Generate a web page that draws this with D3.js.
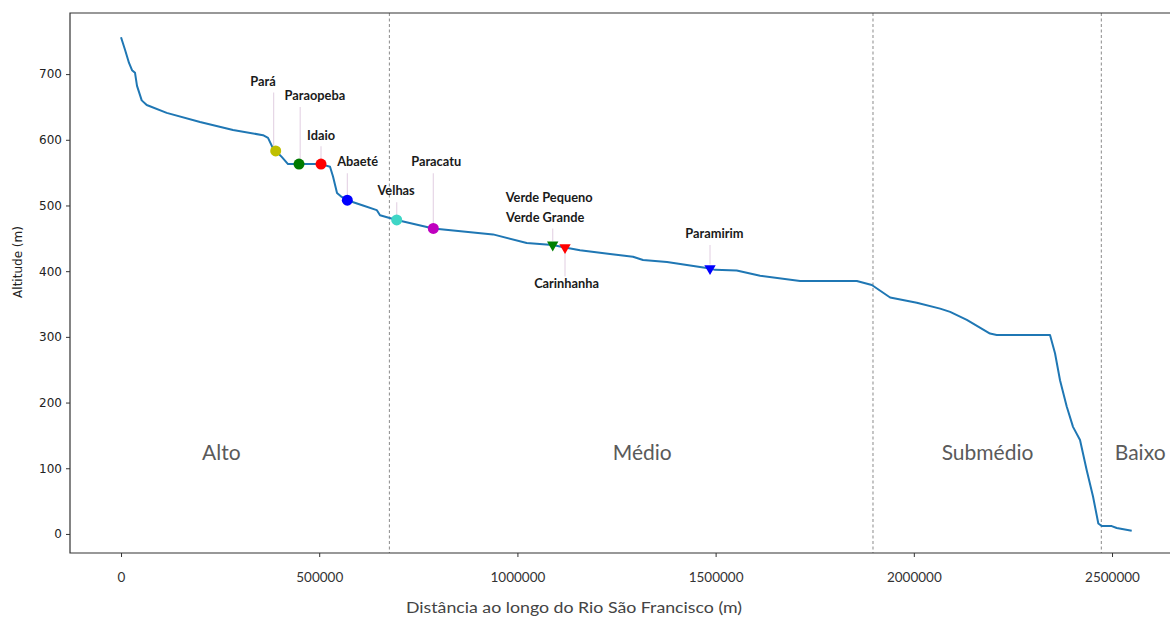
<!DOCTYPE html>
<html>
<head>
<meta charset="utf-8">
<script src="https://cdn.jsdelivr.net/npm/d3@7"></script>
<style>
  html, body { margin: 0; padding: 0; background: #fff; overflow: hidden; }
  svg { display: block; }
</style>
</head>
<body>
<svg id="chart" width="1170" height="620"></svg>
<script>
// ---- Data ----
const profileDist = [0, 10090, 20180, 27750, 35320, 40360, 52220, 64830, 115290, 199290, 282540, 358220, 370840, 383450, 390260, 405400, 421290, 449040, 504540, 527240, 534810, 544900, 556760, 570890, 610490, 645060, 653380, 695510, 787840, 938450, 1023460, 1089050, 1120080, 1157920, 1233600, 1291620, 1316850, 1377400, 1485870, 1498490, 1553230, 1612260, 1713170, 1856210, 1894050, 1940220, 2007570, 2066350, 2091580, 2133710, 2192230, 2209130, 2343590, 2356200, 2368820, 2385720, 2401610, 2419270, 2436170, 2452070, 2465440, 2474020, 2499240, 2511860, 2549700];
const profileAlt = [756, 737, 717, 706, 702, 682, 660, 653, 641, 627, 615, 607, 603, 587, 583, 574, 563, 563, 563, 559, 544, 519, 513, 508, 500, 493, 485, 478, 465, 456, 443, 440, 436, 432, 426, 422, 417, 414, 404, 402, 401, 393, 385, 385, 379, 360, 352, 343, 338, 326, 305, 303, 303, 275, 234, 194, 163, 143, 97, 57, 16, 12, 12, 9, 5];

const tribNames  = ["Pará", "Paraopeba", "Idaio", "Abaeté", "Velhas", "Paracatu", "Verde Grande", "Carinhanha", "Paramirim"];
const tribDist   = [390260, 449040, 504540, 570890, 695510, 787840, 1089050, 1120080, 1485870];
const tribAlt    = [583, 563, 563, 508, 478, 465, 440, 436, 404];
const tribShape  = ["circle", "circle", "circle", "circle", "circle", "circle", "tri", "tri", "tri"];
const tribColor  = ["#bfbf00", "#007a00", "#ff0000", "#0000ff", "#3fd6c6", "#bf00bf", "#008000", "#ff0000", "#0000ff"];

// annotation labels and their leader lines
const labelText  = ["Pará", "Paraopeba", "Idaio", "Abaeté", "Velhas", "Paracatu", "Verde Pequeno", "Verde Grande", "Carinhanha", "Paramirim"];
const labelDist  = [358220, 489000, 504540, 597000, 694000, 795000, 1080000, 1070000, 1124000, 1497000];
const labelAlt   = [682, 661, 600, 560, 516, 560, 505, 475, 375, 450];
const leaderDist = [385000, 452000, 504540, 571000, 695510, 787840, 1089050, 1089050, 1120080, 1485870];
const leaderTop  = [672, 650, 590, 549, 505, 549, 0, 465, 392, 440];
const leaderEnd  = [589, 569, 569, 514, 484, 471, 0, 446, 430, 410];

const sectionNames = ["Alto", "Médio", "Submédio", "Baixo"];
const sectionDist  = [253000, 1315000, 2186000, 2571000];
const sectionAlt   = [112, 112, 112, 112];
const boundaries   = [677000, 1897000, 2473000];

const xTicks = [0, 500000, 1000000, 1500000, 2000000, 2500000];
const yTicks = [0, 100, 200, 300, 400, 500, 600, 700];

// ---- Layout ----
const svg = d3.select("#chart");
const L = 70, T = 13, B = 553, R = 1180;
const x = d3.scaleLinear().domain([-128700, 2671500]).range([L, R]);
const y = d3.scaleLinear().domain([-29, 793]).range([B, T]);

// boundaries
svg.append("g").selectAll("line").data(boundaries).join("line")
  .attr("x1", d => x(d)).attr("x2", d => x(d))
  .attr("y1", T).attr("y2", B)
  .attr("stroke", "#8a8a8a").attr("stroke-width", 1)
  .attr("stroke-dasharray", "3,2.5");

// section labels
svg.append("g").selectAll("text").data(sectionNames).join("text")
  .attr("x", (d, i) => x(sectionDist[i])).attr("y", (d, i) => y(sectionAlt[i]))
  .attr("text-anchor", "middle")
  .attr("font-family", "Lato, 'Open Sans', sans-serif")
  .attr("font-size", 21).attr("fill", "#5a5a5a")
  .text(d => d);

// leader lines
svg.append("g").selectAll("line")
  .data(labelText.map((t, i) => i).filter(i => leaderTop[i] > 0)).join("line")
  .attr("x1", i => x(leaderDist[i])).attr("x2", i => x(leaderDist[i]))
  .attr("y1", i => y(leaderTop[i])).attr("y2", i => y(leaderEnd[i]))
  .attr("stroke", "#e6d6e6").attr("stroke-width", 1.2);

// profile line
const pts = profileDist.map((d, i) => [d, profileAlt[i]]);
svg.append("path").datum(pts)
  .attr("fill", "none").attr("stroke", "#1f77b4").attr("stroke-width", 2)
  .attr("stroke-linejoin", "round")
  .attr("d", d3.line().x(d => x(d[0])).y(d => y(d[1])));

// markers
const mk = svg.append("g");
tribNames.forEach((n, i) => {
  const cx = x(tribDist[i]), cy = y(tribAlt[i]);
  if (tribShape[i] === "circle") {
    mk.append("circle").attr("cx", cx).attr("cy", cy).attr("r", 5.5).attr("fill", tribColor[i]);
  } else {
    mk.append("path")
      .attr("d", d3.symbol().type(d3.symbolTriangle).size(56)())
      .attr("transform", `translate(${cx},${cy}) rotate(180)`)
      .attr("fill", tribColor[i]);
  }
});

// labels
svg.append("g").selectAll("text").data(labelText).join("text")
  .attr("x", (d, i) => x(labelDist[i])).attr("y", (d, i) => y(labelAlt[i]))
  .attr("text-anchor", "middle")
  .attr("font-family", "Lato, 'Open Sans', sans-serif")
  .attr("font-weight", "bold")
  .attr("font-size", 12.8).attr("fill", "#1a1a1a")
  .text(d => d);

// axes
const yAxis = svg.append("g").attr("transform", `translate(${L},0)`)
  .call(d3.axisLeft(y).tickValues(yTicks).tickSize(4).tickPadding(4).tickFormat(d3.format("d")));
yAxis.select(".domain").remove();
yAxis.selectAll("line").attr("stroke", "#333");
yAxis.selectAll("text").attr("font-family", "'DejaVu Sans', sans-serif").attr("font-size", 12).attr("fill", "#222");

const xAxis = svg.append("g").attr("transform", `translate(0,${B})`)
  .call(d3.axisBottom(x).tickValues(xTicks).tickSize(4).tickPadding(15).tickFormat(d3.format("d")));
xAxis.select(".domain").remove();
xAxis.selectAll("line").attr("stroke", "#333");
xAxis.selectAll("text").attr("font-family", "Lato, sans-serif").attr("font-size", 13.5).attr("fill", "#333");

// frame
svg.append("path")
  .attr("d", `M${R},${T}H${L}V${B}H${R}`)
  .attr("fill", "none").attr("stroke", "#333").attr("stroke-width", 1.2);

// axis titles
svg.append("text")
  .attr("transform", `translate(22,262) rotate(-90)`)
  .attr("text-anchor", "middle")
  .attr("font-family", "'DejaVu Sans', sans-serif").attr("font-size", 12).attr("fill", "#222")
  .text("Altitude (m)");
svg.append("text")
  .attr("x", 574).attr("y", 613)
  .attr("text-anchor", "middle")
  .attr("font-family", "Lato, sans-serif").attr("font-size", 16).attr("fill", "#444")
  .attr("textLength", 336).attr("lengthAdjust", "spacingAndGlyphs")
  .text("Distância ao longo do Rio São Francisco (m)");
</script>
</body>
</html>
